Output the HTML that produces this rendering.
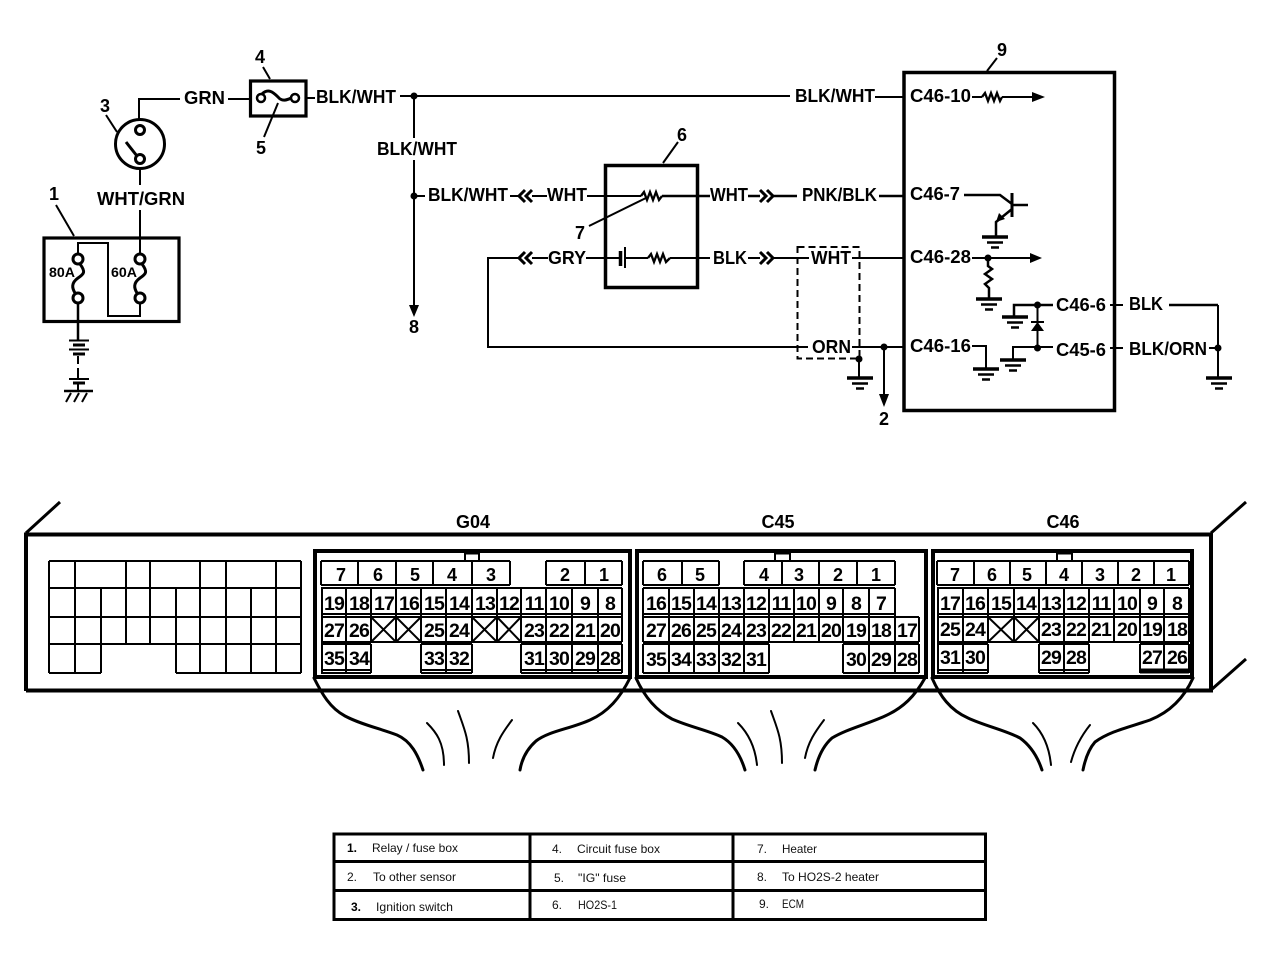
<!DOCTYPE html>
<html><head><meta charset="utf-8"><title>Wiring diagram</title>
<style>
html,body{margin:0;padding:0;background:#fff}
svg{display:block}
text{font-family:"Liberation Sans",sans-serif;fill:#000}
.l{font-weight:bold;font-size:18px}
.n{font-weight:bold;font-size:19.500px;text-anchor:middle;letter-spacing:-.9px}
.m{font-weight:bold;font-size:18px;text-anchor:middle}
.t{font-size:12px;fill:#111}
.tb{font-size:12px;font-weight:bold}
</style></head><body>
<svg width="1280" height="958" viewBox="0 0 1280 958" xmlns="http://www.w3.org/2000/svg">
<defs>
<g id="gnd" fill="none" stroke="#000" stroke-linecap="butt">
<path d="M-13 0H13" stroke-width="3.500"/><path d="M-8 5.500H8" stroke-width="2.500"/><path d="M-4 10.500H4" stroke-width="2.500"/>
</g>
</defs>

<!-- TOP SCHEMATIC WIRES -->
<g fill="none" stroke="#000" stroke-width="2">
<!-- ignition switch -->
<path d="M180 99H139V121"/>
<circle cx="140" cy="144" r="24.500" stroke-width="3"/>
<circle cx="140" cy="130" r="4.500" stroke-width="3"/>
<circle cx="140" cy="159" r="4.500" stroke-width="3"/>
<path d="M126 142L137 156" stroke-width="3"/>
<path d="M106 115L117 132"/>
<path d="M140 170V185M140 210V254"/>
<!-- fuse -->
<path d="M228 99H250M306 98H315"/>
<rect x="250.500" y="81" width="55.500" height="35" stroke-width="3.200"/>
<circle cx="261" cy="98" r="4" stroke-width="2.500"/>
<circle cx="295" cy="98" r="4" stroke-width="2.500"/>
<path d="M262 94C268 88 273 92 278 97C282 102 287 100 291 98" stroke-width="3"/>
<path d="M263 67L270 79M264 137L278 103"/>
<!-- main line -->
<path d="M400 96H790M875 97H904"/>
<path d="M414 96V138M414 160V306M414 196H425"/>
<!-- relay box -->
<rect x="44" y="238" width="135" height="83.500" stroke-width="3.200"/>
<path d="M56 205L74 236"/>
<path d="M78 254V243H108V316H140V303"/>
<circle cx="78" cy="259" r="5" stroke-width="3"/>
<circle cx="78" cy="298" r="5" stroke-width="3"/>
<circle cx="140" cy="259" r="5" stroke-width="3"/>
<circle cx="140" cy="298" r="5" stroke-width="3"/>
<path d="M80 264C86 272 84 274 78 278C71 283 72 288 75 293" stroke-width="3"/>
<path d="M142 264C148 272 146 274 140 278C133 283 134 288 137 293" stroke-width="3"/>
<!-- battery -->
<path d="M78 303V340" stroke-width="2.500"/>
<path d="M69 340.500H89M69 349.500H89"/>
<path d="M73 345H85M73 354H85" stroke-width="3"/>
<path d="M78 356V364M78 368V378" stroke-width="2"/>
<path d="M69 379H89"/>
<path d="M73 383H85" stroke-width="3"/>
<path d="M78 383V391"/>
<path d="M64 391H93" stroke-width="2.500"/>
<path d="M71 393L66 402M79 393L74 402M87 393L82 402"/>
<!-- box 6 -->
<rect x="605.500" y="165.500" width="92" height="122" stroke-width="3.500"/>
<path d="M678 142L663 163"/>
<path d="M510 196H518M532 196H547M587 196H641"/>
<path d="M662 196H710M748 196H760M773 196H797M879 196H904" stroke-width="2.500"/>
<path d="M641 196L644 192L647 200L650 192L653 200L656 192L659 200L662 196" stroke-width="2.300"/>
<path d="M589 226L646 198"/>
<path d="M548 258H532M518 258H488V347H808M852 347H904"/>
<path d="M586 258H620M625 258H648M670 258H710M748 258H760M773 258H809M852 258H904"/>
<path d="M620.500 251V266" stroke-width="3.500"/>
<path d="M625 247V268"/>
<path d="M648 258L651 254L654 262L657 254L660 262L663 254L666 262L670 258" stroke-width="2.300"/>
<!-- chevrons -->
<g stroke-width="3">
<path d="M525 190L519 196L525 202M532 190L526 196L532 202"/>
<path d="M525 252L519 258L525 264M532 252L526 258L532 264"/>
<path d="M760 190L766 196L760 202M767 190L773 196L767 202"/>
<path d="M760 252L766 258L760 264M767 252L773 258L767 264"/>
</g>
<!-- dashed -->
<rect x="797.500" y="247" width="62" height="111.500" stroke-dasharray="7 4"/>
<path d="M859 358V377M884 347V396"/>
<!-- ECM -->
<rect x="904" y="72.500" width="210.500" height="338" stroke-width="3.500"/>
<path d="M997 58L987 71"/>
<path d="M972 97H982M1002 97H1034"/>
<path d="M982 97L985 93L988 101L991 93L994 101L997 93L1000 101L1002 97" stroke-width="2.300"/>
<path d="M964 195H1000L1012 204" stroke-width="2.500"/>
<path d="M1012 193V217" stroke-width="3"/>
<path d="M1012 205H1028" stroke-width="2.500"/>
<path d="M1012 209L996 222V237" stroke-width="2.500"/>
<path d="M972 258H1032"/>
<path d="M988 258V266L992 269L985 274L992 279L985 284L989 288V298" stroke-width="2.500"/>
<path d="M1053 305H1014V317" stroke-width="2.500"/>
<path d="M1037.500 305V348"/>
<path d="M1031 322H1044" stroke-width="2"/>
<path d="M1053 347H1013V360" stroke-width="2"/>
<path d="M972 346H986V368"/>
<path d="M1110 305H1123M1110 348H1123"/>
<path d="M1169 305H1218" stroke-width="2.500"/>
<path d="M1218 305V377M1209 348H1218"/>
</g>
<!-- filled shapes -->
<g fill="#000" stroke="none">
<circle cx="414" cy="96" r="3.500"/>
<circle cx="414" cy="196" r="3.500"/>
<circle cx="859" cy="359" r="3.500"/>
<circle cx="884" cy="347" r="3.500"/>
<circle cx="988" cy="258" r="3.500"/>
<circle cx="1037.500" cy="305" r="3.500"/>
<circle cx="1037.500" cy="348" r="3.500"/>
<circle cx="1218" cy="348" r="3.500"/>
<path d="M409 305H419L414 317Z"/>
<path d="M879 394H889L884 407Z"/>
<path d="M1032 92V102L1045 97Z"/>
<path d="M1030 253V263L1042 258Z"/>
<path d="M1037.500 322L1031 331H1044Z"/>
<path d="M996 222L1005 219L999 213Z"/>
</g>
<use href="#gnd" x="860" y="378"/>
<use href="#gnd" x="995" y="237"/>
<use href="#gnd" x="989" y="299"/>
<use href="#gnd" x="1015" y="317"/>
<use href="#gnd" x="1013" y="360"/>
<use href="#gnd" x="986" y="369"/>
<use href="#gnd" x="1219" y="378"/>

<!-- TOP LABELS -->
<g class="l">
<text class="l" x="184" y="104" textLength="41" lengthAdjust="spacingAndGlyphs">GRN</text>
<text class="l" x="316" y="103" textLength="80" lengthAdjust="spacingAndGlyphs">BLK/WHT</text>
<text class="l" x="377" y="155" textLength="80" lengthAdjust="spacingAndGlyphs">BLK/WHT</text>
<text class="l" x="97" y="205" textLength="88" lengthAdjust="spacingAndGlyphs">WHT/GRN</text>
<text class="l" x="49" y="200">1</text>
<text class="l" x="100" y="112">3</text>
<text class="l" x="255" y="63">4</text>
<text class="l" x="256" y="154">5</text>
<text class="l" x="409" y="333">8</text>
<text class="l" x="677" y="141">6</text>
<text class="l" x="575" y="239">7</text>
<text class="l" x="879" y="425">2</text>
<text class="l" x="997" y="56">9</text>
<text class="l" x="795" y="102" textLength="80" lengthAdjust="spacingAndGlyphs">BLK/WHT</text>
<text class="l" x="428" y="201" textLength="80" lengthAdjust="spacingAndGlyphs">BLK/WHT</text>
<text class="l" x="547" y="201" textLength="40" lengthAdjust="spacingAndGlyphs">WHT</text>
<text class="l" x="710" y="201" textLength="38" lengthAdjust="spacingAndGlyphs">WHT</text>
<text class="l" x="802" y="201" textLength="75" lengthAdjust="spacingAndGlyphs">PNK/BLK</text>
<text class="l" x="548" y="264" textLength="38" lengthAdjust="spacingAndGlyphs">GRY</text>
<text class="l" x="713" y="264" textLength="34" lengthAdjust="spacingAndGlyphs">BLK</text>
<text class="l" x="811" y="264" textLength="40" lengthAdjust="spacingAndGlyphs">WHT</text>
<text class="l" x="812" y="353" textLength="39" lengthAdjust="spacingAndGlyphs">ORN</text>
<text class="l" x="910" y="102" textLength="61" lengthAdjust="spacingAndGlyphs">C46-10</text>
<text class="l" x="910" y="200" textLength="50" lengthAdjust="spacingAndGlyphs">C46-7</text>
<text class="l" x="910" y="263" textLength="61" lengthAdjust="spacingAndGlyphs">C46-28</text>
<text class="l" x="910" y="352" textLength="61" lengthAdjust="spacingAndGlyphs">C46-16</text>
<text class="l" x="1056" y="311" textLength="50" lengthAdjust="spacingAndGlyphs">C46-6</text>
<text class="l" x="1056" y="356" textLength="50" lengthAdjust="spacingAndGlyphs">C45-6</text>
<text class="l" x="1129" y="310" textLength="34" lengthAdjust="spacingAndGlyphs">BLK</text>
<text class="l" x="1129" y="355" textLength="78" lengthAdjust="spacingAndGlyphs">BLK/ORN</text>
<text x="49" y="277" font-size="14" font-weight="bold" textLength="26" lengthAdjust="spacingAndGlyphs">80A</text>
<text x="111" y="277" font-size="14" font-weight="bold" textLength="26" lengthAdjust="spacingAndGlyphs">60A</text>
</g>

<!-- ECU OUTLINE -->
<g fill="none" stroke="#000">
<path d="M26 691V534.500H1211V690.500H26" stroke-width="4"/>
<path d="M26 533L60 502M1211 533L1246 502M1211 690L1246 659" stroke-width="3"/>
<!-- left grid -->
<path shape-rendering="crispEdges" stroke-width="2" d="M49 561H301M49 588H301M49 617H301M49 644H301M49 673H101M176 673H301
M49 561V673M75 561V673M101 588V673M126 561V644M150 561V644M176 588V673M200 561V673M226 561V673M251 588V673M276 561V673M301 561V673"/>
<!-- connector housings -->
<path d="M315 677V551H630V677ZM637 677V551H926V677ZM933 677V551H1192V677Z" stroke-width="4"/>
<path d="M465 561V553.500H479V561M775 561V553.500H790V561M1057 561V553.500H1072V561" stroke-width="2"/>
<!-- G04 grid -->
<path shape-rendering="crispEdges" stroke-width="2" d="M321 561H510M546 561H622M321 585H510M546 585H622M321 588H622M321 614H622M321 617H622M321 642H622M321 644H371M421 644H472M521 644H622M321 670H371M421 670H472M521 670H622M321 673H371M421 673H472M521 673H622
M321 561V585M358 561V585M396 561V585M433 561V585M472 561V585M510 561V585M546 561V585M585 561V585M622 561V585
M322 588V642M346 588V642M371 588V642M396 588V642M421 588V642M446 588V642M472 588V642M497 588V642M521 588V642M546 588V642M572 588V642M598 588V642M622 588V642
M322 644V673M346 644V673M371 644V673M421 644V673M446 644V673M472 644V673M521 644V673M546 644V673M572 644V673M598 644V673M622 644V673"/>
<path stroke-width="2" d="M371 617L396 642M396 617L371 642M396 617L421 642M421 617L396 642M472 617L497 642M497 617L472 642M497 617L521 642M521 617L497 642"/>
<!-- C45 grid -->
<path shape-rendering="crispEdges" stroke-width="2" d="M643 561H719M744 561H895M643 585H719M744 585H895M643 588H895M643 614H895M643 617H919M643 642H919M643 644H769M843 644H919M643 673H769M843 673H919
M643 561V585M682 561V585M719 561V585M744 561V585M782 561V585M819 561V585M857 561V585M895 561V585
M643 588V642M669 588V642M694 588V642M719 588V642M744 588V642M769 588V642M794 588V642M819 588V642M843 588V642M869 588V642M895 588V642M919 617V642
M643 644V673M669 644V673M694 644V673M719 644V673M744 644V673M769 644V673M843 644V673M869 644V673M895 644V673M919 644V673"/>
<!-- C46 grid -->
<path shape-rendering="crispEdges" stroke-width="2" d="M937 561H1189M937 585H1189M937 588H1189M937 614H1189M937 617H1189M937 642H1189M937 644H988M1039 644H1089M1140 644H1189M937 670H988M1039 670H1089M937 673H988M1039 673H1089M1140 672H1189
M937 561V585M974 561V585M1010 561V585M1046 561V585M1082 561V585M1118 561V585M1154 561V585M1189 561V585
M938 588V642M963 588V642M988 588V642M1014 588V642M1039 588V642M1064 588V642M1089 588V642M1114 588V642M1140 588V642M1164 588V642M1189 588V642
M938 644V673M963 644V673M988 644V673M1039 644V673M1064 644V673M1089 644V673M1140 644V673M1164 644V673M1189 644V673"/>
<path stroke-width="2" d="M988 617L1014 642M1014 617L988 642M1014 617L1039 642M1039 617L1014 642"/>
<path stroke-width="5" d="M1140 671H1189" shape-rendering="crispEdges"/>
<!-- harness curves -->
<g stroke-width="3" stroke-linecap="round">
<path d="M314 678C322 694 330 708 345 716C362 725 382 729 397 735C411 741 418 755 423 770"/>
<path d="M630 678C620 698 608 712 590 720C570 729 549 731 536 741C527 749 522 758 520 770"/>
<path d="M636 678C644 696 655 710 672 719C690 727 707 730 722 737C734 744 741 757 745 770"/>
<path d="M925 678C915 696 903 708 885 716C865 725 847 729 832 738C823 746 818 757 815 770"/>
<path d="M932 678C940 696 950 710 968 718C985 726 1005 730 1020 738C1031 746 1038 758 1042 770"/>
<path d="M1193 678C1184 698 1170 712 1150 720C1130 727 1110 731 1095 742C1088 750 1085 760 1083 770"/>
<path stroke-width="2" d="M427 723C436 732 444 742 444 765"/>
<path stroke-width="2" d="M458 711C464 728 469 738 469 763"/>
<path stroke-width="2" d="M512 720C503 732 496 742 493 758"/>
<path stroke-width="2" d="M738 723C747 732 755 745 757 765"/>
<path stroke-width="2" d="M771 711C777 728 782 738 782 763"/>
<path stroke-width="2" d="M824 720C815 732 808 742 805 758"/>
<path stroke-width="2" d="M1033 723C1042 732 1049 745 1051 765"/>
<path stroke-width="2" d="M1090 725C1082 735 1075 747 1071 762"/>
</g>
</g>

<!-- CONNECTOR LABELS -->
<text class="m" x="473" y="528">G04</text>
<text class="m" x="778" y="528">C45</text>
<text class="m" x="1063" y="528">C46</text>
<g class="m">
<text class="m" x="341" y="581">7</text><text class="m" x="378" y="581">6</text><text class="m" x="415" y="581">5</text><text class="m" x="452" y="581">4</text><text class="m" x="491" y="581">3</text><text class="m" x="565" y="581">2</text><text class="m" x="604" y="581">1</text>
<text class="m" x="662" y="581">6</text><text class="m" x="700" y="581">5</text><text class="m" x="764" y="581">4</text><text class="m" x="799" y="581">3</text><text class="m" x="838" y="581">2</text><text class="m" x="876" y="581">1</text>
<text class="m" x="955" y="581">7</text><text class="m" x="992" y="581">6</text><text class="m" x="1027" y="581">5</text><text class="m" x="1064" y="581">4</text><text class="m" x="1100" y="581">3</text><text class="m" x="1136" y="581">2</text><text class="m" x="1171" y="581">1</text>
</g>
<!-- G04 -->
<text class="n" x="334" y="610">19</text><text class="n" x="359" y="610">18</text><text class="n" x="384" y="610">17</text><text class="n" x="409" y="610">16</text><text class="n" x="434" y="610">15</text><text class="n" x="459" y="610">14</text><text class="n" x="485" y="610">13</text><text class="n" x="509" y="610">12</text><text class="n" x="534" y="610">11</text><text class="n" x="559" y="610">10</text><text class="n" x="585" y="610">9</text><text class="n" x="610" y="610">8</text>
<text class="n" x="334" y="637">27</text><text class="n" x="359" y="637">26</text><text class="n" x="434" y="637">25</text><text class="n" x="459" y="637">24</text><text class="n" x="534" y="637">23</text><text class="n" x="559" y="637">22</text><text class="n" x="585" y="637">21</text><text class="n" x="610" y="637">20</text>
<text class="n" x="334" y="665">35</text><text class="n" x="359" y="665">34</text><text class="n" x="434" y="665">33</text><text class="n" x="459" y="665">32</text><text class="n" x="534" y="665">31</text><text class="n" x="559" y="665">30</text><text class="n" x="585" y="665">29</text><text class="n" x="610" y="665">28</text>
<!-- C45 -->
<text class="n" x="656" y="610">16</text><text class="n" x="681" y="610">15</text><text class="n" x="706" y="610">14</text><text class="n" x="731" y="610">13</text><text class="n" x="756" y="610">12</text><text class="n" x="781" y="610">11</text><text class="n" x="806" y="610">10</text><text class="n" x="831" y="610">9</text><text class="n" x="856" y="610">8</text><text class="n" x="881" y="610">7</text>
<text class="n" x="656" y="637">27</text><text class="n" x="681" y="637">26</text><text class="n" x="706" y="637">25</text><text class="n" x="731" y="637">24</text><text class="n" x="756" y="637">23</text><text class="n" x="781" y="637">22</text><text class="n" x="806" y="637">21</text><text class="n" x="831" y="637">20</text><text class="n" x="856" y="637">19</text><text class="n" x="881" y="637">18</text><text class="n" x="907" y="637">17</text>
<text class="n" x="656" y="666">35</text><text class="n" x="681" y="666">34</text><text class="n" x="706" y="666">33</text><text class="n" x="731" y="666">32</text><text class="n" x="756" y="666">31</text><text class="n" x="856" y="666">30</text><text class="n" x="881" y="666">29</text><text class="n" x="907" y="666">28</text>
<!-- C46 -->
<text class="n" x="950" y="610">17</text><text class="n" x="975" y="610">16</text><text class="n" x="1001" y="610">15</text><text class="n" x="1026" y="610">14</text><text class="n" x="1051" y="610">13</text><text class="n" x="1076" y="610">12</text><text class="n" x="1101" y="610">11</text><text class="n" x="1127" y="610">10</text><text class="n" x="1152" y="610">9</text><text class="n" x="1177" y="610">8</text>
<text class="n" x="950" y="636">25</text><text class="n" x="975" y="636">24</text><text class="n" x="1051" y="636">23</text><text class="n" x="1076" y="636">22</text><text class="n" x="1101" y="636">21</text><text class="n" x="1127" y="636">20</text><text class="n" x="1152" y="636">19</text><text class="n" x="1177" y="636">18</text>
<text class="n" x="950" y="664">31</text><text class="n" x="975" y="664">30</text><text class="n" x="1051" y="664">29</text><text class="n" x="1076" y="664">28</text><text class="n" x="1152" y="664">27</text><text class="n" x="1177" y="664">26</text>

<!-- LEGEND TABLE -->
<path fill="none" stroke="#000" stroke-width="3" shape-rendering="crispEdges" d="M334 834H985.500V919.500H334ZM334 861.500H985.500M334 890.500H985.500M530 834V919.500M733 834V919.500"/>
<text class="tb" x="347" y="852">1.</text><text class="t" x="372" y="852" textLength="86" lengthAdjust="spacingAndGlyphs">Relay / fuse box</text>
<text class="t" x="347" y="881">2.</text><text class="t" x="373" y="881" textLength="83" lengthAdjust="spacingAndGlyphs">To other sensor</text>
<text class="tb" x="351" y="911">3.</text><text class="t" x="376" y="911" textLength="77" lengthAdjust="spacingAndGlyphs">Ignition switch</text>
<text class="t" x="552" y="853">4.</text><text class="t" x="577" y="853" textLength="83" lengthAdjust="spacingAndGlyphs">Circuit fuse box</text>
<text class="t" x="554" y="882">5.</text><text class="t" x="578" y="882" textLength="48" lengthAdjust="spacingAndGlyphs">"IG" fuse</text>
<text class="t" x="552" y="909">6.</text><text class="t" x="578" y="909" textLength="39" lengthAdjust="spacingAndGlyphs">HO2S-1</text>
<text class="t" x="757" y="853">7.</text><text class="t" x="782" y="853" textLength="35" lengthAdjust="spacingAndGlyphs">Heater</text>
<text class="t" x="757" y="881">8.</text><text class="t" x="782" y="881" textLength="97" lengthAdjust="spacingAndGlyphs">To HO2S-2 heater</text>
<text class="t" x="759" y="908">9.</text><text class="t" x="782" y="908" textLength="22" lengthAdjust="spacingAndGlyphs">ECM</text>
</svg>
</body></html>
